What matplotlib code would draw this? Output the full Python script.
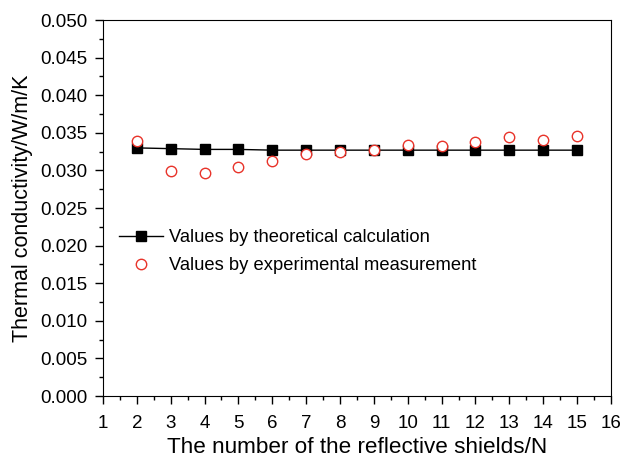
import numpy as np
import matplotlib.pyplot as plt
from matplotlib.ticker import MultipleLocator

plt.rcParams['font.family'] = ['Liberation Sans', 'DejaVu Sans']

# number of reflective shields
n = [2, 3, 4, 5, 6, 7, 8, 9, 10, 11, 12, 13, 14, 15]
# thermal conductivity, W/m/K
theory = [0.0330, 0.0329, 0.0328, 0.0328, 0.0327, 0.0327, 0.0327,
          0.0327, 0.0327, 0.0327, 0.0327, 0.0327, 0.0327, 0.0327]
experiment = [0.0339, 0.0299, 0.0296, 0.0304, 0.0313, 0.0322, 0.0325,
              0.0327, 0.0334, 0.0332, 0.0338, 0.0344, 0.0341, 0.0346]

fig = plt.figure(figsize=(6.24, 4.67), dpi=100)
ax = fig.add_axes([0.165, 0.152, 0.814, 0.805])

ax.plot(n, theory, color='black', marker='s', markersize=6.5, linewidth=1,
        label='Values by theoretical calculation')
ax.plot(n, experiment, linestyle='none', marker='o', markersize=7.5,
        markerfacecolor='white', markeredgecolor='#e8332a', markeredgewidth=1,
        label='Values by experimental measurement')

ax.set_xlim(1, 16)
ax.set_ylim(0, 0.05)
ax.xaxis.set_major_locator(MultipleLocator(1))
ax.xaxis.set_minor_locator(MultipleLocator(0.5))
ax.yaxis.set_major_locator(MultipleLocator(0.005))
ax.yaxis.set_minor_locator(MultipleLocator(0.0025))
ax.yaxis.set_major_formatter(plt.FormatStrFormatter('%.3f'))
ax.tick_params(which='major', direction='out', length=6, width=1, labelsize=13.5, pad=5)
ax.tick_params(axis='x', which='major', pad=8)
ax.tick_params(which='minor', direction='out', length=3, width=1)

ax.set_xlabel('The number of the reflective shields/N', fontsize=16.2, labelpad=3)
ax.set_ylabel('Thermal conductivity/W/m/K', fontsize=15.5, labelpad=5)

ax.legend(loc='upper left', bbox_to_anchor=(0.0, 0.487), frameon=False,
          fontsize=13.2, handlelength=2.4, handletextpad=0.3,
          labelspacing=0.6, borderaxespad=0.5)

fig.savefig('out.png', dpi=100)
